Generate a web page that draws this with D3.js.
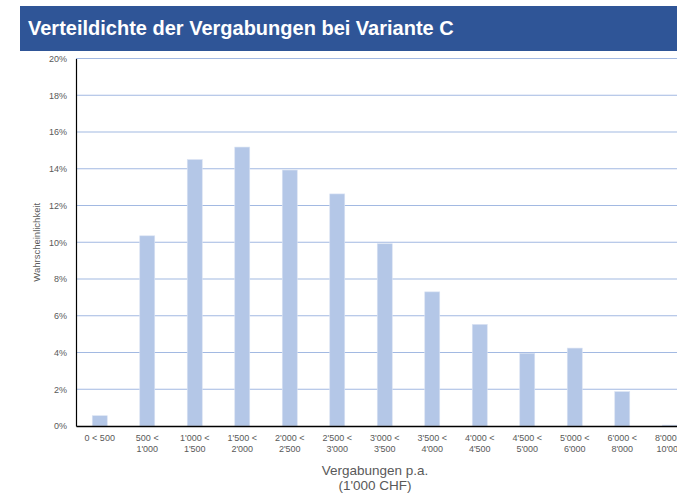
<!DOCTYPE html>
<html>
<head>
<meta charset="utf-8">
<script src="https://cdn.jsdelivr.net/npm/d3@7"></script>
<style>
  body { margin: 0; background: #fff; }
  text { font-family: "Liberation Sans", Arial, sans-serif; }
</style>
</head>
<body>
<div id="chart"></div>
<script>
// Chart data
var categories = [
  ["0 < 500"], ["500 <", "1'000"], ["1'000 <", "1'500"], ["1'500 <", "2'000"],
  ["2'000 <", "2'500"], ["2'500 <", "3'000"], ["3'000 <", "3'500"], ["3'500 <", "4'000"],
  ["4'000 <", "4'500"], ["4'500 <", "5'000"], ["5'000 <", "6'000"], ["6'000 <", "8'000"],
  ["8'000 <", "10'000"]
];
var probabilities = [0.56, 10.35, 14.5, 15.18, 13.93, 12.63, 9.92, 7.3, 5.53, 3.96, 4.24, 1.87, 0.05];
var yTicks = [0, 2, 4, 6, 8, 10, 12, 14, 16, 18, 20];

var svgWidth = 677;
var svgHeight = 503;

var chartMargin = { top: 58.5, left: 76, bottom: 77 };
var chartHeight = svgHeight - chartMargin.top - chartMargin.bottom;

var svg = d3.select("#chart").append("svg")
  .attr("width", svgWidth)
  .attr("height", svgHeight);

// Title bar
svg.append("rect")
  .attr("x", 20).attr("y", 6)
  .attr("width", svgWidth - 20).attr("height", 45)
  .attr("fill", "#2F5597");
svg.append("text")
  .attr("x", 28).attr("y", 35)
  .attr("fill", "#fff")
  .style("font-size", "20px")
  .style("font-weight", "bold")
  .text("Verteildichte der Vergabungen bei Variante C");

var chartGroup = svg.append("g")
  .attr("transform", `translate(${chartMargin.left}, ${chartMargin.top})`);

var keys = categories.map(function(c, i) { return i; });
var xBandScale = d3.scaleBand()
  .domain(keys)
  .range([0, 47.5 * categories.length])
  .paddingInner(0.684)
  .paddingOuter(0.342);

var yLinearScale = d3.scaleLinear()
  .domain([0, 20])
  .range([chartHeight, 0]);

// gridlines
chartGroup.append("g")
  .selectAll("line")
  .data(yTicks.slice(1))
  .enter()
  .append("line")
  .attr("x1", 0)
  .attr("x2", svgWidth)
  .attr("y1", d => yLinearScale(d))
  .attr("y2", d => yLinearScale(d))
  .attr("stroke", "#A2B9E2")
  .attr("stroke-width", 1.2);

// bars
chartGroup.selectAll("rect.bar")
  .data(probabilities)
  .enter()
  .append("rect")
  .attr("class", "bar")
  .attr("x", (d, i) => xBandScale(i))
  .attr("width", xBandScale.bandwidth())
  .attr("y", d => yLinearScale(d))
  .attr("height", d => chartHeight - yLinearScale(d))
  .attr("fill", "#B4C7E7")
  .attr("stroke", "#DAE3F3")
  .attr("stroke-width", 0.6);

// left axis
var leftAxis = d3.axisLeft(yLinearScale)
  .tickValues(yTicks)
  .tickSize(0)
  .tickPadding(9)
  .tickFormat(d => d + "%");
var yAxisG = chartGroup.append("g").call(leftAxis);
yAxisG.select(".domain").attr("stroke", "#000").attr("stroke-width", 1.2);
yAxisG.selectAll("text")
  .attr("fill", "#595959")
  .style("font-size", "9px");

// bottom axis
var bottomAxis = d3.axisBottom(xBandScale).tickSize(0).tickFormat("");
var xAxisG = chartGroup.append("g")
  .attr("transform", `translate(0, ${chartHeight})`)
  .call(bottomAxis);
xAxisG.select(".domain").attr("stroke", "#000").attr("stroke-width", 1.4);

// category labels, two lines each
var catLabels = chartGroup.append("g")
  .selectAll("text")
  .data(categories)
  .enter()
  .append("text")
  .attr("text-anchor", "middle")
  .attr("fill", "#595959")
  .style("font-size", "9px");
catLabels.selectAll("tspan")
  .data((d, i) => d.map(function(t) { return { t: t, i: i }; }))
  .enter()
  .append("tspan")
  .attr("x", d => xBandScale(d.i) + xBandScale.bandwidth() / 2)
  .attr("y", (d, j) => chartHeight + 15 + j * 10.5)
  .text(d => d.t);

// axis titles
chartGroup.append("text")
  .attr("transform", "rotate(-90)")
  .attr("x", -(yLinearScale(10)))
  .attr("y", -36)
  .attr("text-anchor", "middle")
  .attr("fill", "#595959")
  .style("font-size", "9.5px")
  .text("Wahrscheinlichkeit");

var xTitle = svg.append("text")
  .attr("text-anchor", "middle")
  .attr("fill", "#595959")
  .style("font-size", "13.5px");
xTitle.append("tspan").attr("x", 375).attr("y", 475).text("Vergabungen p.a.");
xTitle.append("tspan").attr("x", 375).attr("y", 490).text("(1'000 CHF)");
</script>
</body>
</html>
